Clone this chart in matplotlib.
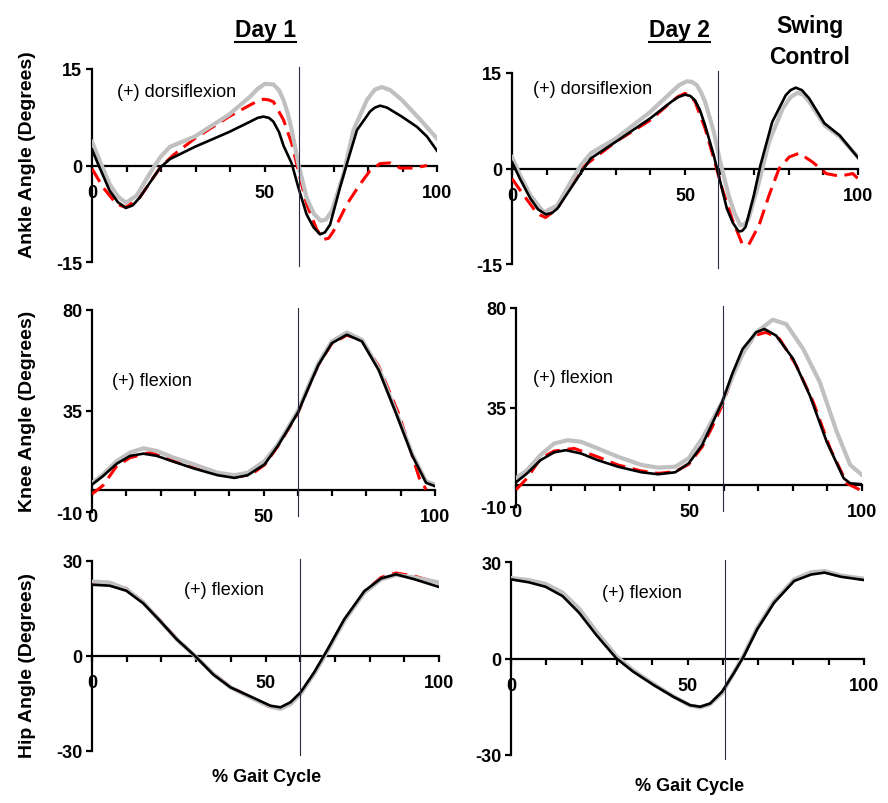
import matplotlib
matplotlib.use("Agg")
import matplotlib.pyplot as plt
from matplotlib.lines import Line2D

plt.rcParams["font.family"] = ["Liberation Sans", "DejaVu Sans"]

FIG_W, FIG_H = 888, 804

GRAY = "#c0c0c0"
RED = "#ff0000"
VLINE = "#2b2b45"

# ---- Ankle, Day 1 ----
ANKLE1_GRAY_X = [0, 2.2, 5.1, 7.5, 9.8, 12.9, 16.7, 19.8, 22.6, 29.8, 39.7, 45.8, 48.0, 50.1,
                 52.6, 54.2, 55.5, 56.8, 57.9, 59.8, 62.2, 64.3, 66.3, 67.8, 69.5, 72.9, 75.8,
                 79.7, 82, 84, 86.5, 89.8, 95.2, 100]
ANKLE1_GRAY_Y = [3.7, 0.8, -2.9, -4.8, -5.8, -4.7, -1.3, 1.3, 2.9, 4.5, 7.9, 10.7, 11.9, 12.7,
                 12.6, 11.7, 10.2, 8.0, 5.5, 0.3, -5.0, -7.5, -8.6, -8.4, -7.1, -1.3, 5.5,
                 10.2, 11.8, 12.2, 11.7, 10.2, 7.1, 4.2]
ANKLE1_BLACK_X = [0, 1.7, 5.1, 7.5, 9.8, 11.8, 13.8, 19.8, 22.6, 29.8, 39.7, 45.8, 48, 49.7,
                  51.3, 52.6, 54.2, 55.5, 57.9, 59.8, 62.2, 64.2, 66.1, 67.5, 69, 71.9, 73.9,
                  76.8, 80.6, 82, 83.5, 85.5, 89.8, 94.2, 97.1, 100]
ANKLE1_BLACK_Y = [2.5, 0.3, -3.9, -5.7, -6.6, -6.2, -5.0, -0.3, 1.0, 2.9, 5.2, 6.8, 7.4, 7.6,
                  7.4, 6.8, 5.2, 3.1, 0.3, -3.4, -7.6, -9.6, -10.7, -10.4, -9.2, -3.4, 0.3,
                  5.5, 8.4, 9.0, 9.3, 9.0, 7.6, 6.0, 4.5, 2.3]
ANKLE1_RED_X = [0, 3.2, 7.1, 9.8, 13.8, 19.8, 23.5, 29.8, 39.7, 45.8, 48, 49.7, 51.2, 52.6,
                55.5, 57.9, 59.8, 62.2, 65.1, 67.1, 68.6, 70, 73.9, 77.7, 80.6, 83.5, 86.4,
                89.4, 93.2, 97.1]
ANKLE1_RED_Y = [-0.5, -3.4, -6.0, -6.5, -5.0, -0.3, 1.6, 4.2, 7.6, 9.4, 10.0, 10.3, 10.2, 9.9,
                7.1, 3.4, -0.8, -6.0, -9.9, -11.5, -11.3, -10.2, -6.0, -2.9, -0.8, 0.3, 0.4,
                -0.4, -0.4, 0.0]

# ---- Ankle, Day 2 ----
ANKLE2_GRAY_X = [0, 2.3, 5.3, 9.2, 13.1, 17, 19.9, 22.8, 30, 40, 46.1, 48.3, 50.5, 52, 53.4,
                 54.6, 55.8, 58.3, 60.2, 62.6, 64.3, 66, 67.2, 68.4, 71.4, 74.3, 78.2, 80.5,
                 82.5, 84.2, 85.9, 90.3, 94.7, 100]
ANKLE2_GRAY_Y = [1.8, -1.0, -4.2, -6.9, -5.8, -2.1, 0.5, 2.4, 4.7, 8.9, 12.0, 13.1, 13.7, 13.6,
                 13.1, 12.0, 10.5, 5.8, 1.0, -4.2, -7.0, -8.9, -8.8, -7.9, -2.1, 4.2, 9.4,
                 11.2, 11.9, 11.6, 10.5, 6.8, 5.0, 1.8]
ANKLE2_BLACK_X = [0, 2.3, 5.3, 7.5, 9.7, 11.5, 13.1, 17, 20.4, 22.8, 30, 40, 46.1, 48, 50,
                  51.5, 52.9, 54.3, 55.8, 58.3, 59.7, 62.1, 63.8, 65.5, 66.5, 67.5, 69.9,
                  71.8, 75.2, 79.1, 80.5, 82, 83.8, 85.9, 90.3, 94.7, 100]
ANKLE2_BLACK_Y = [1.0, -1.6, -4.7, -6.4, -7.2, -7.0, -6.3, -3.1, -0.3, 1.6, 4.2, 7.9, 10.5,
                  11.2, 11.6, 11.4, 10.7, 9.2, 6.8, 2.1, -1.0, -6.3, -8.5, -9.9, -9.8, -9.2,
                  -4.2, 0.5, 7.3, 11.5, 12.3, 12.7, 12.3, 11.0, 7.1, 5.2, 1.7]
ANKLE2_RED_X = [0, 3.4, 7.3, 9.7, 13.1, 19.9, 30, 40, 46.1, 48, 50, 51.5, 52.9, 55.8, 58.3,
                60.7, 63.6, 66.5, 68.4, 71.4, 74.3, 77.2, 80.1, 83, 86.9, 90.8, 94.7, 98.5, 100]
ANKLE2_RED_Y = [-1.6, -4.2, -7.1, -7.7, -6.3, 0.0, 4.2, 7.6, 10.5, 11.3, 11.8, 11.4, 10.5, 6.3,
                1.6, -3.1, -7.9, -11.8, -12.0, -8.9, -4.2, 0.0, 1.8, 2.4, 1.0, -0.8, -1.2,
                -0.8, -1.6]

# ---- Knee, Day 1 ----
KNEE1_X = [0, 3.2, 7.2, 11.1, 15.0, 18.9, 23.8, 29.7, 36.6, 41.5, 45.4, 50.3, 54.2, 57.2, 60.1,
           63.0, 66.0, 69.9, 74.3, 78.7, 83.6, 88.5, 93.4, 97.4, 100]
KNEE1_GRAY_Y = [3.0, 6.7, 12.7, 16.5, 18.4, 17.2, 14.2, 11.2, 7.5, 6.4, 7.5, 12.7, 20.2, 27.7,
                35.2, 45.7, 56.2, 66.0, 70.0, 66.7, 54.0, 35.2, 15.7, 3.7, 2.2]
KNEE1_BLACK_Y = [2.2, 6.0, 11.5, 15.0, 16.0, 15.0, 12.4, 9.4, 6.4, 5.2, 6.4, 11.2, 19.5, 27.0,
                 34.5, 45.0, 55.5, 65.2, 69.0, 66.0, 53.2, 34.5, 15.0, 3.0, 1.5]
KNEE1_RED_X = [0, 3.2, 7.2, 11.1, 17.0, 23.8, 29.7, 36.6, 41.5, 46.4, 50.3, 54.2, 57.2, 60.1,
               63.0, 66.0, 69.9, 74.3, 78.7, 83.6, 89.5, 95.4, 97.4]
KNEE1_RED_Y = [-2.0, 1.8, 10.5, 14.2, 16.5, 12.7, 9.7, 6.7, 5.5, 6.7, 11.0, 19.3, 26.8, 34.3,
               45.0, 55.5, 65.0, 68.8, 66.5, 55.0, 33.5, 5.2, 0.0]

# ---- Knee, Day 2 ----
KNEE2_GRAY_X = [0, 3.2, 7.1, 11.0, 14.9, 18.8, 23.6, 29.5, 36.3, 41.1, 46.0, 49.9, 53.8, 56.7,
                59.6, 62.5, 65.5, 69.4, 74.2, 78.1, 83.0, 87.8, 92.7, 96.6, 100]
KNEE2_GRAY_Y = [3.0, 6.7, 13.5, 18.7, 20.2, 19.5, 16.5, 12.7, 9.0, 7.8, 8.2, 12.0, 21.0, 29.2,
                37.5, 48.7, 59.2, 69.0, 74.7, 72.7, 61.5, 46.5, 24.0, 9.0, 4.5]
KNEE2_BLACK_X = [0, 3.2, 7.1, 11.0, 14.4, 18.8, 23.6, 29.5, 36.3, 41.1, 46.0, 49.9, 53.8, 56.7,
                 59.6, 62.5, 65.5, 69.4, 71.8, 75.2, 80.1, 84.9, 89.8, 94.7, 96.6, 100]
KNEE2_BLACK_Y = [1.2, 5.2, 11.2, 14.7, 15.7, 14.2, 11.2, 8.2, 5.7, 4.8, 5.7, 9.7, 18.0, 27.7,
                 37.5, 50.2, 61.5, 69.0, 70.5, 67.5, 57.0, 40.5, 19.5, 3.0, 0.7, 0.3]
KNEE2_RED_X = [0, 3.2, 7.1, 11.0, 16.8, 23.6, 29.5, 36.3, 41.1, 46.0, 49.9, 53.8, 56.7, 59.6,
               62.5, 65.5, 69.4, 72.3, 76.2, 81.0, 85.9, 90.8, 95.6, 100]
KNEE2_RED_Y = [-2.2, 3.0, 12.0, 15.3, 16.5, 12.7, 9.0, 6.3, 5.2, 6.0, 9.3, 17.2, 26.2, 36.0,
               48.7, 60.0, 67.8, 69.0, 66.0, 54.0, 37.5, 16.5, 0.7, -2.7]

# ---- Hip, Day 1 ----
HIP1_X = [0, 5.1, 9.9, 14.8, 19.6, 24.4, 29.7, 35.0, 39.9, 45.7, 51.4, 54.3, 57.2, 60.1, 64.0,
          67.9, 72.7, 78.5, 83.3, 87.6, 93.0, 100]
HIP1_GRAY_Y = [23.5, 23.2, 21.1, 16.9, 11.1, 5.3, 0.0, -5.7, -9.9, -13.1, -16.0, -16.7, -15.2,
               -12.0, -5.7, 1.6, 11.1, 20.0, 24.2, 25.6, 24.8, 23.2]
HIP1_BLACK_Y = [22.5, 22.2, 20.6, 16.6, 11.1, 5.3, 0.0, -5.9, -9.9, -12.8, -15.7, -16.2, -14.6,
                -11.5, -5.2, 2.1, 11.6, 20.5, 24.5, 25.8, 24.2, 21.8]
HIP1_RED_Y = [23.0, 22.8, 21.3, 17.0, 11.3, 5.5, 0.0, -5.6, -9.7, -13.0, -16.2, -16.5, -15.0,
              -11.8, -5.5, 1.8, 11.3, 20.3, 24.8, 26.2, 25.2, 23.0]

# ---- Hip, Day 2 ----
HIP2_X = [0, 5.0, 9.8, 14.6, 19.3, 24.1, 29.8, 34.5, 40.2, 46.0, 50.7, 53.6, 56.4, 59.8, 63.1,
          65.9, 69.7, 74.5, 80.2, 85.0, 88.8, 93.5, 100]
HIP2_GRAY_Y = [25.0, 24.4, 23.2, 20.5, 15.5, 8.5, 0.8, -3.6, -7.8, -11.8, -14.6, -15.2, -14.2,
               -10.8, -4.4, 1.0, 9.5, 17.8, 24.6, 26.8, 27.2, 25.8, 24.8]
HIP2_BLACK_Y = [24.6, 23.7, 22.3, 19.4, 14.2, 7.4, 0.1, -4.0, -8.1, -11.9, -14.5, -15.0, -14.0,
                -10.3, -4.6, 0.6, 9.0, 17.3, 24.1, 26.1, 26.7, 25.4, 24.4]
HIP2_RED_Y = [24.8, 24.2, 22.9, 20.0, 15.0, 8.0, 0.5, -3.8, -8.0, -11.8, -14.6, -15.1, -14.1,
              -10.5, -4.5, 0.8, 9.2, 17.5, 24.4, 26.4, 26.9, 25.6, 24.6]

SWING_ONSET = [60, 59.6, 60, 59.8, 60, 60.5]

X_TICKS = list(range(0, 101, 10))
X_TICK_LABELS = ["0", "", "", "", "", "50", "", "", "", "", "100"]
ANKLE_TICKS = [-15, 0, 15]
KNEE_TICKS = [-10, 35, 80]
HIP_TICKS = [-30, 0, 30]


def px_rect(left, top, right, bottom):
    return [left / FIG_W, 1 - bottom / FIG_H, (right - left) / FIG_W, (bottom - top) / FIG_H]


def fy(px):
    return 1 - px / FIG_H


def draw_panel(ax, gray, black, red, yticks, swing, note, note_xy):
    ax.plot(*red, color=RED, lw=2.2, dashes=(5, 2.5), zorder=3)
    ax.plot(*gray, color=GRAY, lw=3.0, zorder=4, solid_joinstyle="round")
    ax.plot(*black, color="black", lw=1.9, zorder=5, solid_joinstyle="round")

    ax.set_xlim(0, 100)
    ax.set_ylim(yticks[0], yticks[-1])
    ax.axvline(swing, ymin=-0.02, ymax=1.01, color=VLINE, lw=0.8, clip_on=False, zorder=6)

    for side in ("top", "right"):
        ax.spines[side].set_visible(False)
    ax.spines["bottom"].set_position(("data", 0))
    ax.spines["bottom"].set_linewidth(1.6)
    ax.spines["left"].set_linewidth(1.6)

    ax.set_xticks(X_TICKS)
    ax.set_xticklabels(X_TICK_LABELS, fontweight="bold")
    ax.set_yticks(yticks)
    ax.set_yticklabels([str(t) for t in yticks], fontweight="bold")
    ax.tick_params(axis="x", direction="out", length=4, width=1.6, pad=9, labelsize=13)
    ax.tick_params(axis="y", direction="out", length=4, width=1.6, pad=3, labelsize=13)

    ax.text(note_xy[0], note_xy[1], note, fontsize=13, ha="left", va="center")


def main() -> None:
    fig = plt.figure(figsize=(FIG_W / 100, FIG_H / 100), dpi=100)

    ax1 = fig.add_axes(px_rect(92, 70, 437, 263))
    ax2 = fig.add_axes(px_rect(512, 74, 858, 265))
    ax3 = fig.add_axes(px_rect(92, 311, 435, 513))
    ax4 = fig.add_axes(px_rect(516, 309, 862, 508))
    ax5 = fig.add_axes(px_rect(92, 562, 439, 752))
    ax6 = fig.add_axes(px_rect(511, 563, 864, 756))

    draw_panel(ax1, (ANKLE1_GRAY_X, ANKLE1_GRAY_Y), (ANKLE1_BLACK_X, ANKLE1_BLACK_Y),
               (ANKLE1_RED_X, ANKLE1_RED_Y), ANKLE_TICKS, SWING_ONSET[0],
               "(+) dorsiflexion", (7.2, 11.5))
    draw_panel(ax2, (ANKLE2_GRAY_X, ANKLE2_GRAY_Y), (ANKLE2_BLACK_X, ANKLE2_BLACK_Y),
               (ANKLE2_RED_X, ANKLE2_RED_Y), ANKLE_TICKS, SWING_ONSET[1],
               "(+) dorsiflexion", (6.0, 12.6))
    draw_panel(ax3, (KNEE1_X, KNEE1_GRAY_Y), (KNEE1_X, KNEE1_BLACK_Y),
               (KNEE1_RED_X, KNEE1_RED_Y), KNEE_TICKS, SWING_ONSET[2],
               "(+) flexion", (5.8, 48.7))
    draw_panel(ax4, (KNEE2_GRAY_X, KNEE2_GRAY_Y), (KNEE2_BLACK_X, KNEE2_BLACK_Y),
               (KNEE2_RED_X, KNEE2_RED_Y), KNEE_TICKS, SWING_ONSET[3],
               "(+) flexion", (4.9, 48.7))
    draw_panel(ax5, (HIP1_X, HIP1_GRAY_Y), (HIP1_X, HIP1_BLACK_Y),
               (HIP1_X, HIP1_RED_Y), HIP_TICKS, SWING_ONSET[4],
               "(+) flexion", (26.5, 21.1))
    draw_panel(ax6, (HIP2_X, HIP2_GRAY_Y), (HIP2_X, HIP2_BLACK_Y),
               (HIP2_X, HIP2_RED_Y), HIP_TICKS, SWING_ONSET[5],
               "(+) flexion", (25.8, 20.5))

    # y labels (left column only)
    for text, ypx in [("Ankle Angle (Degrees)", 155),
                      ("Knee Angle (Degrees)", 411),
                      ("Hip Angle (Degrees)", 665)]:
        fig.text(27 / FIG_W, fy(ypx), text, rotation=90, ha="center", va="center",
                 fontsize=14, fontweight="bold")

    fig.text(267 / FIG_W, fy(778), "% Gait Cycle", ha="center", va="center",
             fontsize=13, fontweight="bold")
    fig.text(690 / FIG_W, fy(787), "% Gait Cycle", ha="center", va="center",
             fontsize=13, fontweight="bold")

    # column titles
    day1 = fig.text(265 / FIG_W, fy(37), "Day 1", ha="center", va="baseline",
                    fontsize=16.5, fontweight="bold")
    day2 = fig.text(679.5 / FIG_W, fy(37), "Day 2", ha="center", va="baseline",
                    fontsize=16.5, fontweight="bold")
    fig.text(810 / FIG_W, fy(33), "Swing", ha="center", va="baseline",
             fontsize=16.5, fontweight="bold")
    fig.text(810 / FIG_W, fy(64), "Control", ha="center", va="baseline",
             fontsize=16.5, fontweight="bold")

    fig.canvas.draw()
    renderer = fig.canvas.get_renderer()
    for t in (day1, day2):
        bb = t.get_window_extent(renderer)
        fig.add_artist(Line2D([bb.x0 / FIG_W, bb.x1 / FIG_W], [fy(42.5), fy(42.5)],
                              transform=fig.transFigure, color="black", lw=1.5))

    fig.savefig("out.png", dpi=100)


if __name__ == "__main__":
    main()
